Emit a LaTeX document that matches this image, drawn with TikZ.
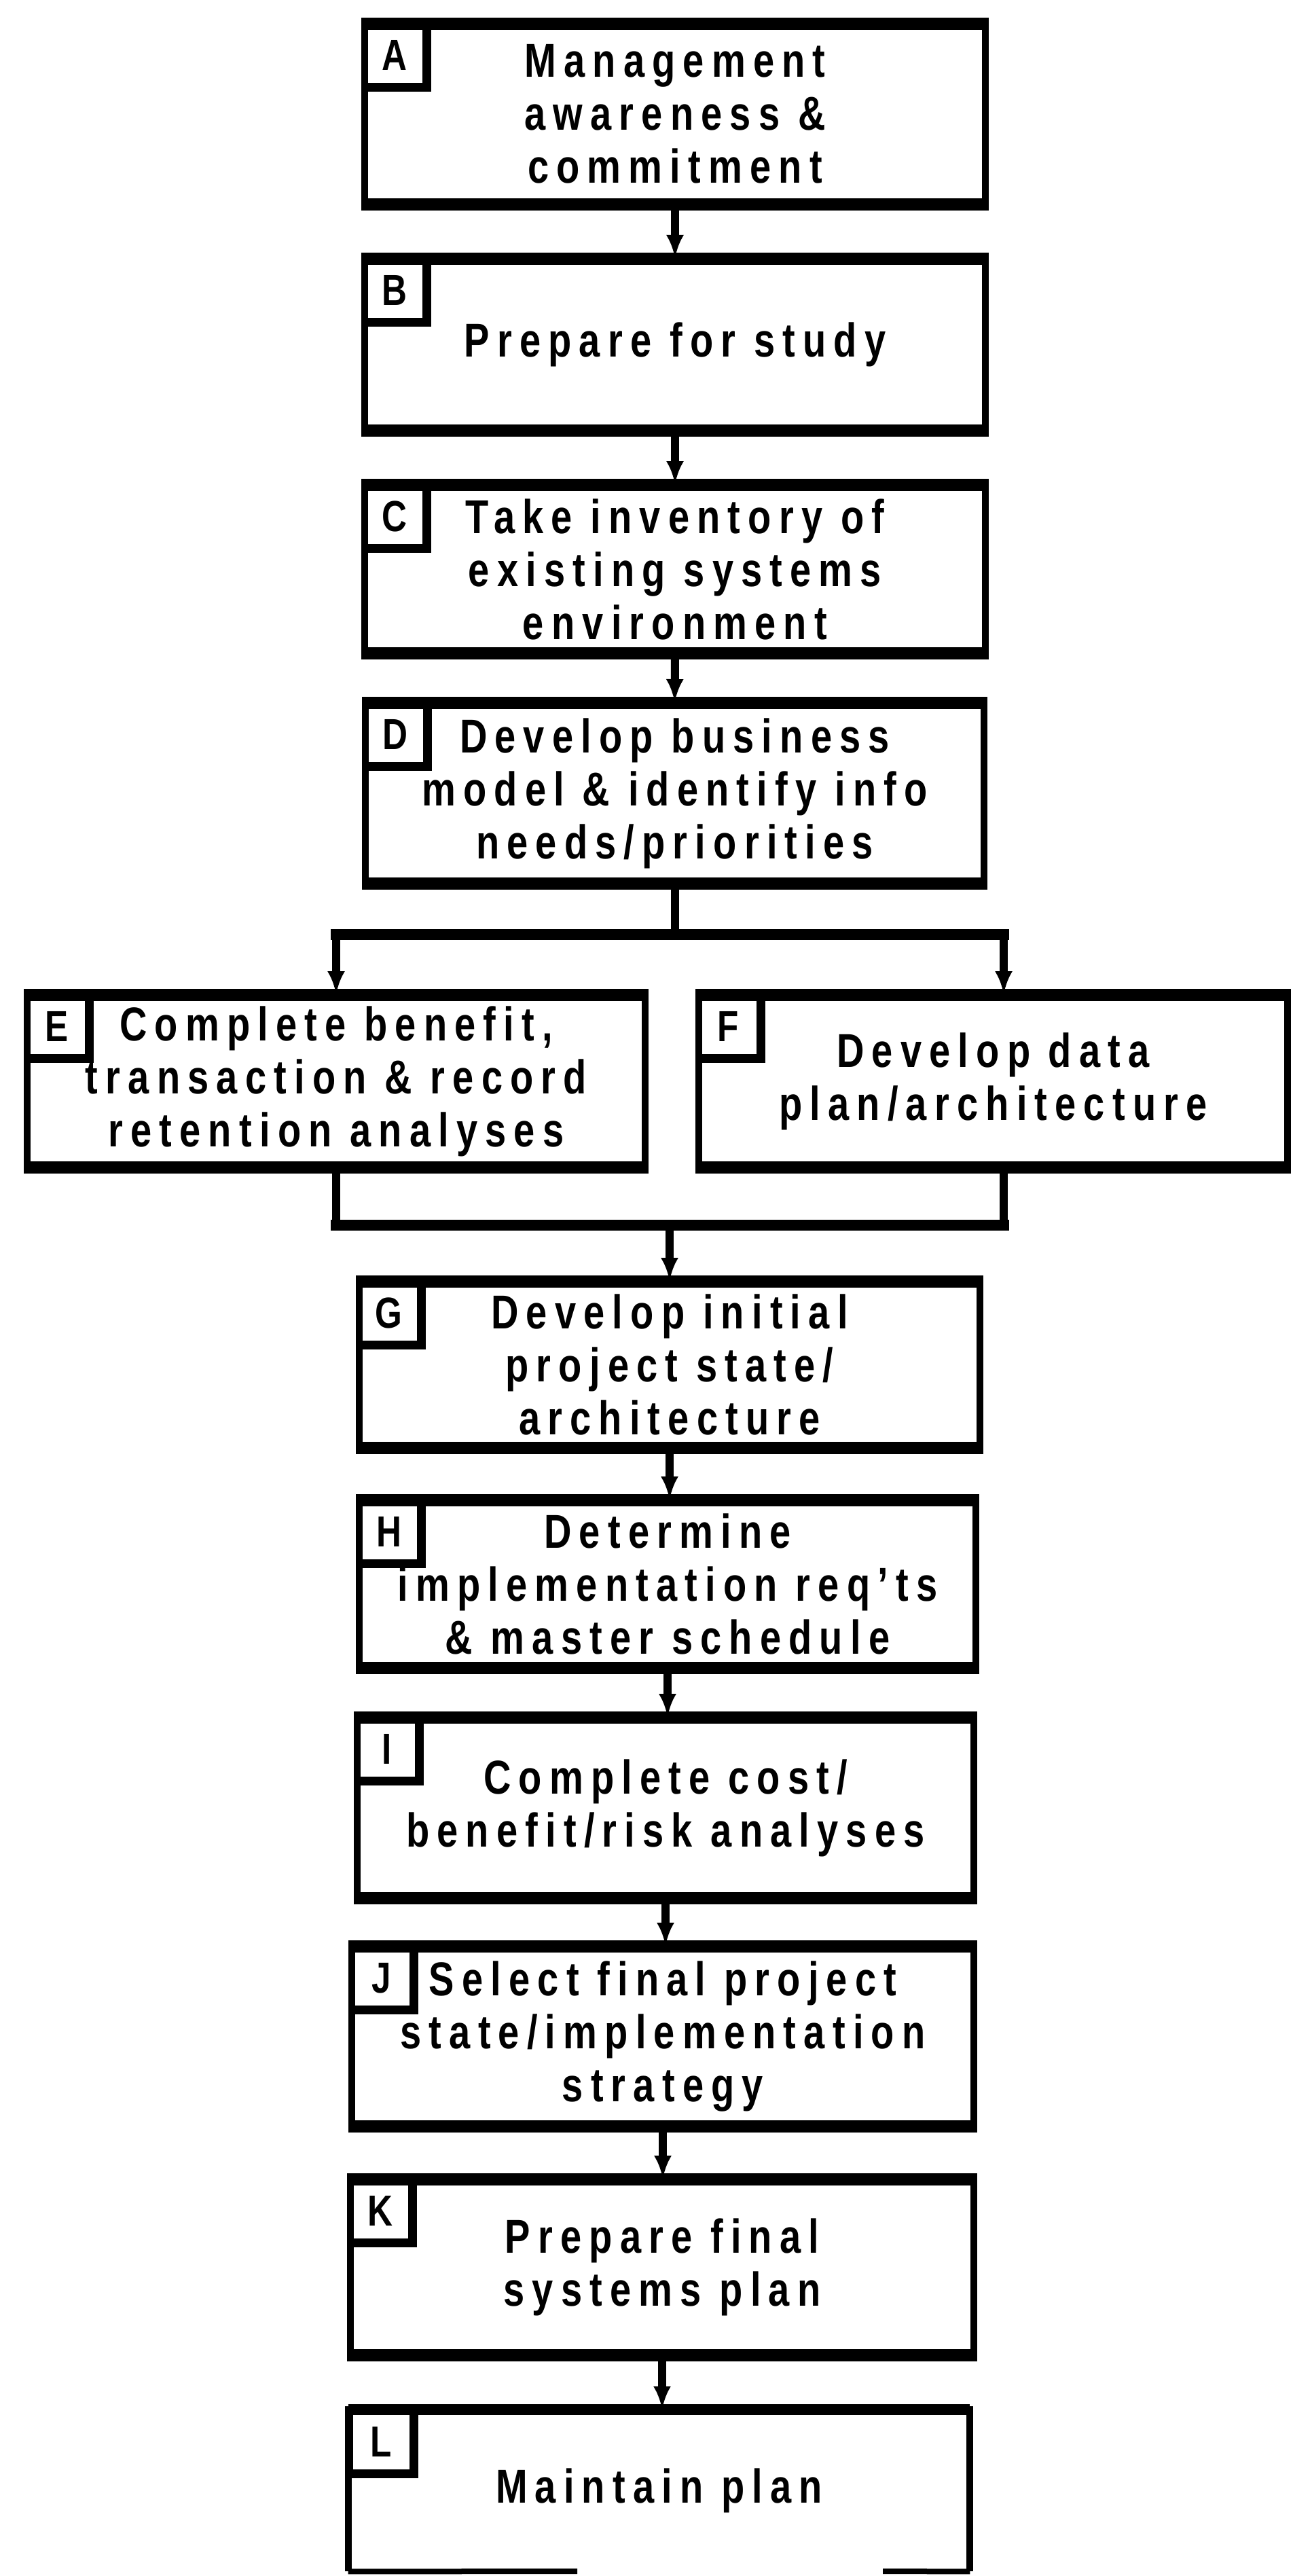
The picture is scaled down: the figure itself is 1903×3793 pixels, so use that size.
\documentclass[tikz,border=0pt]{standalone}
\usepackage{fontspec}
\setmainfont{Liberation Sans}[FakeStretch=0.8, LetterSpace=16]
\usetikzlibrary{arrows.meta}
\newcommand\boxfont{\fontsize{35}{39}\selectfont\bfseries}
\newcommand\tagfont{\fontsize{32}{36}\selectfont\bfseries}
\tikzset{
  stepbox/.style={draw, line width=5pt, inner sep=0pt, align=center, font=\boxfont},
  openbox/.style={inner sep=0pt, align=center, font=\boxfont},
  band/.style={line width=8pt},
  tag/.style={draw, line width=3.5pt, anchor=north west, minimum width=45pt,
    minimum height=44pt, inner sep=0pt, font=\tagfont},
  tagedge/.style={line width=6pt},
  wire/.style={line width=6pt},
  bar/.style={line width=8pt, line cap=rect},
  arr/.style={line width=6pt, -{Latex[length=17pt,width=13pt]}},
}
\begin{document}
\begin{tikzpicture}[x=0.5pt, y=-0.5pt]
\fill[white] (0,0) rectangle (1903,3793);
\useasboundingbox (0,0) rectangle (1903,3793);

% main column of steps
\node[stepbox, minimum width=457pt, minimum height=129pt] (A) at (994,168)
  {Management\\awareness \&\\commitment};
\node[stepbox, minimum width=457pt, minimum height=122.5pt] (B) at (994,507.5)
  {Prepare for study};
\node[stepbox, minimum width=457pt, minimum height=120pt] (C) at (994,838)
  {Take inventory of\\existing systems\\environment};
\node[stepbox, minimum width=455.5pt, minimum height=129pt] (D) at (993.5,1168)
  {Develop business\\model \& identify info\\needs/priorities};
% the two parallel analyses
\node[stepbox, minimum width=455pt, minimum height=123pt] (E) at (495,1592)
  {Complete benefit,\\transaction \& record\\retention analyses};
\node[stepbox, minimum width=433.5pt, minimum height=123pt] (F) at (1462.5,1592)
  {Develop data\\plan/architecture};
\node[stepbox, minimum width=457pt, minimum height=118.5pt] (G) at (986,2009.5)
  {Develop initial\\project state/\\architecture};
\node[stepbox, minimum width=454pt, minimum height=119.5pt] (H) at (983,2332.5)
  {Determine\\implementation req'ts\\\& master schedule};
\node[stepbox, minimum width=454pt, minimum height=129pt] (I) at (980,2662)
  {Complete cost/\\benefit/risk analyses};
\node[stepbox, minimum width=458pt, minimum height=128.5pt] (J) at (976,2998.5)
  {Select final project\\state/implementation\\strategy};
\node[stepbox, minimum width=459pt, minimum height=125.5pt] (K) at (975,3338.5)
  {Prepare final\\systems plan};
\node[openbox, minimum width=457.5pt, minimum height=119pt] (L) at (970.5,3667)
  {Maintain plan};

% outline of the last step, its lower edge broken
\coordinate (Lgap1) at (850,3786);
\coordinate (Lgap2) at (1300,3786);
\draw[line width=5pt] (L.south west) -- (L.north west) -- (L.north east) -- (L.south east);
\draw[line width=4pt] (L.south west) -- (Lgap1) (Lgap2) -- (L.south east);
\draw[band] (L.north west) -- (L.north east);

% heavy top and bottom rules of the step boxes
\foreach \n in {A,B,C,D,E,F,G,H,I,J,K}
  \draw[band] (\n.north west) -- (\n.north east) (\n.south west) -- (\n.south east);

% letter tags in the corners
\foreach \n in {A,B,C,D,E,F,G,H,I,J,K,L} {
  \node[tag] (\n tag) at (\n.north west) {\n};
  \draw[tagedge] (\n tag.north east) -- (\n tag.south east) -- (\n tag.south west);
}

% sequence arrows
\draw[arr] (A.south) -- (B.north);
\draw[arr] (B.south) -- (C.north);
\draw[arr] (C.south) -- (D.north);

% split after D
\coordinate (brL) at (495,1376);
\coordinate (brR) at (1478,1376);
\draw[wire] (D.south) -- (D.south |- brL);
\draw[arr] (brL) -- (E.north);
\draw[arr] (brR) -- (brR |- F.north);
\draw[bar] (brL) -- (brR);

% join before G
\coordinate (mgL) at (495,1804);
\coordinate (mgR) at (1478,1804);
\draw[wire] (E.south) -- (mgL);
\draw[wire] (mgR |- F.south) -- (mgR);
\draw[bar] (mgL) -- (mgR);
\draw[arr] (G.north |- mgL) -- (G.north);

\draw[arr] (G.south) -- (G.south |- H.north);
\draw[arr] (H.south) -- (H.south |- I.north);
\draw[arr] (I.south) -- (I.south |- J.north);
\draw[arr] (J.south) -- (J.south |- K.north);
\draw[arr] (K.south) -- (K.south |- L.north);
\end{tikzpicture}
\end{document}
